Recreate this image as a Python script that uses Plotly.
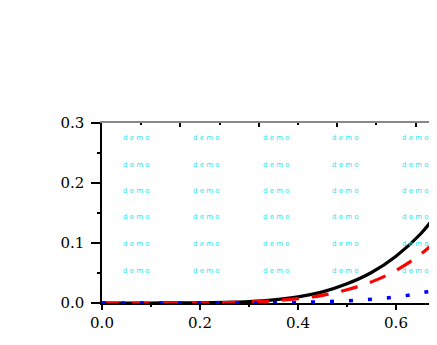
import plotly.graph_objects as go

# Data
x_vals = [0.0, 0.05, 0.10, 0.15, 0.20, 0.25, 0.30, 0.35, 0.40, 0.45, 0.50, 0.55, 0.60, 0.65, 0.70]
black_vals = [0.0, 0.0, 0.00001, 0.0001, 0.0003, 0.001, 0.0024, 0.0053, 0.0103, 0.0186, 0.0320, 0.0508, 0.0780, 0.1150, 0.1660]
red_vals = [0.0, 0.0, 0.0, 0.0001, 0.0002, 0.0007, 0.0017, 0.0036, 0.0072, 0.0128, 0.0222, 0.0352, 0.0543, 0.0810, 0.1170]
blue_vals = [0.0, 0.0, 0.0, 0.0, 0.0, 0.0001, 0.0002, 0.0005, 0.0011, 0.0021, 0.0037, 0.0062, 0.0100, 0.0165, 0.0255]

x_range = [0.0, 0.70]
y_range = [0.0, 0.3]
x_ticks = [0.0, 0.2, 0.4, 0.6]
x_ticklabels = ["0.0", "0.2", "0.4", "0.6"]
y_ticks = [0.0, 0.1, 0.2, 0.3]
y_ticklabels = ["0.0", "0.1", "0.2", "0.3"]
top_ticks = [0.0, 0.16, 0.32, 0.48, 0.64]

watermark_text = "d e m o"
# watermark grid centres, in page pixels
wm_cols_px = [136, 206, 276, 345, 415]
wm_rows_px = [138, 165, 191, 217, 244, 271]

W, H = 437, 345
L, R, T, B = 94, 0, 115, 50
OFF = 8  # page body margin
pw, ph = W - L - R, H - T - B
plot_left_px = L + OFF
plot_bottom_px = T + ph + OFF

fig = go.Figure()
fig.add_trace(go.Scatter(x=x_vals, y=black_vals, mode="lines",
                         line=dict(color="black", width=3.2), line_shape="spline",
                         showlegend=False, cliponaxis=False))
fig.add_trace(go.Scatter(x=x_vals, y=red_vals, mode="lines",
                         line=dict(color="#ff0000", width=3.2, dash="17px,13px"), line_shape="spline",
                         showlegend=False, cliponaxis=False))
fig.add_trace(go.Scatter(x=x_vals, y=blue_vals, mode="lines",
                         line=dict(color="#0000ff", width=3.5, dash="4px,15px"), line_shape="spline",
                         showlegend=False, cliponaxis=False))
# invisible trace to anchor the top axis
fig.add_trace(go.Scatter(x=[x_range[0]], y=[0], xaxis="x2", mode="markers",
                         marker=dict(opacity=0), showlegend=False, hoverinfo="skip"))

annotations = []
for cx in wm_cols_px:
    for ry in wm_rows_px:
        annotations.append(dict(
            x=(cx - plot_left_px) / pw, y=(plot_bottom_px - ry) / ph, xref="paper", yref="paper",
            text=watermark_text, showarrow=False,
            font=dict(family="DejaVu Sans", size=7, color="#22e8f0"),
            xanchor="center", yanchor="middle"))

tick_font = dict(family="DejaVu Serif", size=15, color="black")

fig.update_layout(
    width=W, height=H,
    margin=dict(l=L, r=R, t=T, b=B, pad=0, autoexpand=False),
    paper_bgcolor="white", plot_bgcolor="white",
    showlegend=False,
    annotations=annotations,
    xaxis=dict(range=x_range, tickvals=x_ticks, ticktext=x_ticklabels,
               ticks="outside", ticklen=5, tickwidth=1.5, tickcolor="black",
               showline=True, linecolor="black", linewidth=1.5, ticklabelstandoff=0,
               showgrid=False, zeroline=False, tickfont=tick_font,
               minor=dict(dtick=0.1, tick0=0, ticks="outside", ticklen=2, tickcolor="black", showgrid=False)),
    xaxis2=dict(range=x_range, overlaying="x", side="top", anchor="y",
                tickvals=top_ticks, ticks="inside", ticklen=4, tickwidth=1.5, tickcolor="black",
                showticklabels=False, showline=True, linecolor="#888888", linewidth=1.5,
                showgrid=False, zeroline=False,
                minor=dict(dtick=0.08, tick0=0, ticks="inside", ticklen=2, tickcolor="black", showgrid=False)),
    yaxis=dict(range=y_range, tickvals=y_ticks, ticktext=y_ticklabels,
               ticks="outside", ticklen=9, tickwidth=1.5, tickcolor="black",
               showline=True, linecolor="black", linewidth=1.5, ticklabelstandoff=4,
               showgrid=False, zeroline=False, tickfont=tick_font,
               minor=dict(dtick=0.05, tick0=0, ticks="outside", ticklen=3, tickcolor="black", showgrid=False)),
)

fig.write_html("out.html")
